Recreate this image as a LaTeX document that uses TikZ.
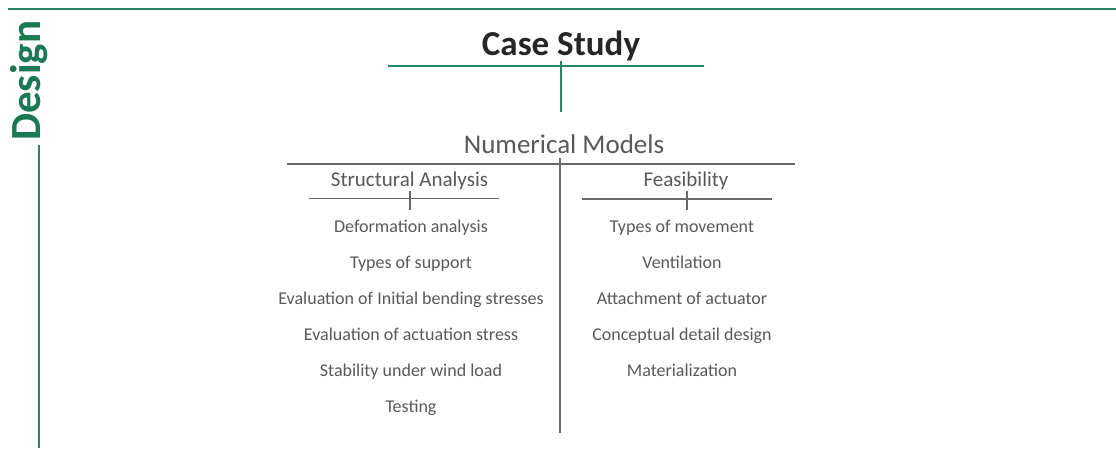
\documentclass[tikz,border=0pt]{standalone}
\usepackage{fontspec}
\setmainfont{Carlito}
\definecolor{dgreen}{RGB}{26,120,82}
\definecolor{lgreen}{RGB}{40,132,98}
\definecolor{tgray}{RGB}{89,89,89}
\definecolor{lgray}{RGB}{105,105,105}
\definecolor{tdark}{RGB}{38,38,38}
\tikzset{
  txt/.style={inner sep=0pt, anchor=base, text=tgray},
  item/.style={txt, font=\fontsize{18}{20}\selectfont},
  subhead/.style={txt, font=\fontsize{21}{24}\selectfont},
  gline/.style={draw=lgreen, line width=2pt},
  kline/.style={draw=lgray, line width=1.8pt},
}
\begin{document}
\begin{tikzpicture}[x=1pt,y=-1pt]
\useasboundingbox[fill=white] (0,0) rectangle (1116,448);
% frame
\coordinate (ftl) at (8,9);
\coordinate (ftr) at (1116,9);
\coordinate (fvt) at (39,145);
\coordinate (fvb) at (39,448);
\draw[draw=lgreen, line width=2.6pt] (ftl) -- (ftr);
\draw[gline] (fvt) -- (fvb);
\node[rotate=90, anchor=base west, inner sep=0pt, text=dgreen,
      font=\fontsize{43}{46}\selectfont\bfseries] (design) at (40,141) {Design};
% Case study
\node[inner sep=0pt, anchor=base, text=tdark, font=\fontsize{35}{40}\selectfont\bfseries] (case) at (561,55) {Case Study};
\coordinate (cbl) at (388,66);
\coordinate (cbr) at (704,66);
\coordinate (cvt) at (561,61);
\coordinate (cvb) at (561,112);
\draw[gline] (cbl) -- (cbr);
\draw[gline] (cvt) -- (cvb);
% Numerical models
\node[txt, font=\fontsize{27}{30}\selectfont] (num) at (564,153) {Numerical Models};
\coordinate (nbl) at (287,164);
\coordinate (nbr) at (795,164);
\coordinate (nvt) at (560,158);
\coordinate (nvb) at (560,433);
\draw[kline] (nbl) -- (nbr);
\draw[kline] (nvt) -- (nvb);
% Structural analysis
\node[subhead] (sa) at (409.5,186) {Structural Analysis};
\coordinate (sbl) at (309,198.5);
\coordinate (sbr) at (499,198.5);
\coordinate (stt) at (410,191);
\coordinate (stb) at (410,210);
\draw[kline, line width=1.4pt] (sbl) -- (sbr);
\draw[kline, line width=1.4pt] (stt) -- (stb);
% Feasibility
\node[subhead] (fe) at (686,186) {Feasibility};
\coordinate (fbl) at (582,199);
\coordinate (fbr) at (772,199);
\coordinate (ftt) at (687,191);
\coordinate (ftb) at (687,210);
\draw[kline, line width=1.4pt] (fbl) -- (fbr);
\draw[kline, line width=1.4pt] (ftt) -- (ftb);
% left items
\node[item] (l1) at (411,232) {Deformation analysis};
\node[item] (l2) at (411,268) {Types of support};
\node[item] (l3) at (411,304) {Evaluation of Initial bending stresses};
\node[item] (l4) at (411,340) {Evaluation of actuation stress};
\node[item] (l5) at (411,376) {Stability under wind load};
\node[item] (l6) at (411,412) {Testing};
% right items
\node[item] (r1) at (682,232) {Types of movement};
\node[item] (r2) at (682,268) {Ventilation};
\node[item] (r3) at (682,304) {Attachment of actuator};
\node[item] (r4) at (682,340) {Conceptual detail design};
\node[item] (r5) at (682,376) {Materialization};
\end{tikzpicture}
\end{document}
